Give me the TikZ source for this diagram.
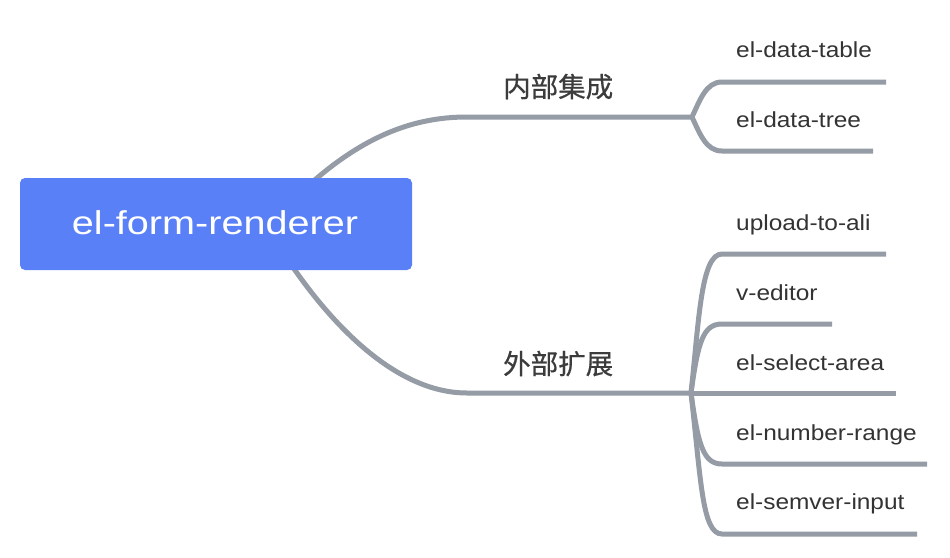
\documentclass[tikz,border=0pt]{standalone}
\usepackage{fontspec}
\setmainfont{Liberation Sans}
\newfontfamily\labfont[FakeStretch=1.12]{Liberation Sans}
\newfontfamily\rootfont[FakeStretch=1.2]{Liberation Sans}
\newfontfamily\cjk[FakeBold=0.6]{Noto Sans CJK SC}
\definecolor{rootblue}{HTML}{5A80F7}
\definecolor{linegray}{HTML}{959CA5}
\definecolor{txtgray}{HTML}{333333}
\definecolor{cjkgray}{HTML}{3C3C3C}
\tikzset{
  conn/.style={draw=linegray, line width=5pt, line cap=butt},
  leaflabel/.style={anchor=base west, inner sep=0pt, text=txtgray, font=\labfont\fontsize{21.8}{26}\selectfont},
  mainlabel/.style={anchor=base west, inner sep=0pt, text=cjkgray, font=\cjk\fontsize{27.5}{32}\selectfont},
  rootbox/.style={fill=rootblue, rounded corners=5pt, minimum width=392pt, minimum height=92pt, inner sep=0pt}
}
\begin{document}
\begin{tikzpicture}[x=1pt,y=-1pt]
\useasboundingbox[fill=white] (0,0) rectangle (950,557);
% coordinates
\coordinate (rs1) at (309,185);
\coordinate (rs2) at (290,263);
\coordinate (h1) at (467,117);
\coordinate (h2) at (467,393);
\coordinate (f1) at (692,117);
\coordinate (f2) at (691,393);
\coordinate (e1) at (886,82);
\coordinate (e2) at (873,151);
\coordinate (e3) at (886,254);
\coordinate (e4) at (832,324);
\coordinate (e5) at (896,393);
\coordinate (e6) at (927,464);
\coordinate (e7) at (917,534);
% main connectors
\draw[conn] (rs1) .. controls (365,135) and (415,117) .. (h1) -- (f1);
\draw[conn] (rs2) .. controls (337,332) and (400,393) .. (h2) -- (f2);
% upper fork
\draw[conn] (f1) .. controls (700,100) and (706,82) .. (722,82) -- (e1);
\draw[conn] (f1) .. controls (700,134) and (706,151) .. (722,151) -- (e2);
% lower fork
\draw[conn] (f2) .. controls (699,320) and (701,254) .. (722,254) -- (e3);
\draw[conn] (f2) .. controls (698,342) and (703,324) .. (722,324) -- (e4);
\draw[conn] (f2) -- (e5);
\draw[conn] (f2) .. controls (698,444) and (703,464) .. (722,464) -- (e6);
\draw[conn] (f2) .. controls (701,480) and (702,534) .. (722,534) -- (e7);
% root
\node[rootbox] (root) at (216,224) {};
\node[anchor=base, inner sep=0pt, text=white, font=\rootfont\fontsize{33}{40}\selectfont] (roottxt) at (215,234) {el-form-renderer};
% main labels
\node[mainlabel] (m1) at (503,97) {内部集成};
\node[mainlabel] (m2) at (503,374) {外部扩展};
% leaf labels
\node[leaflabel] (l1) at (736,57) {el-data-table};
\node[leaflabel] (l2) at (736,127) {el-data-tree};
\node[leaflabel] (l3) at (736,230) {upload-to-ali};
\node[leaflabel] (l4) at (736,300) {v-editor};
\node[leaflabel] (l5) at (736,370) {el-select-area};
\node[leaflabel] (l6) at (736,440) {el-number-range};
\node[leaflabel] (l7) at (736,509) {el-semver-input};
\end{tikzpicture}
\end{document}
